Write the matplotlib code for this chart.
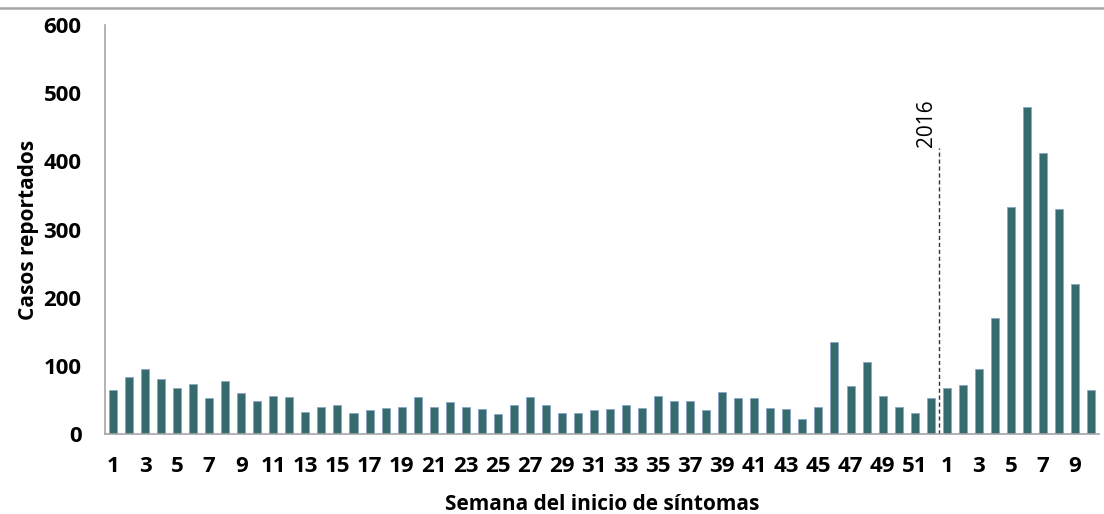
import matplotlib.pyplot as plt
from matplotlib.lines import Line2D

# --- Data: weekly reported cases, 2015 weeks 1-52 then 2016 weeks 1-10 ---
weeks_2015 = list(range(1, 53))
weeks_2016 = list(range(1, 11))
cases_2015 = [65, 83, 96, 81, 67, 74, 53, 78, 60, 49,
              56, 54, 33, 40, 42, 31, 35, 38, 40, 54,
              40, 47, 40, 37, 29, 42, 54, 43, 31, 31,
              35, 37, 43, 38, 56, 49, 49, 35, 62, 53,
              53, 38, 37, 22, 40, 135, 70, 106, 56, 40,
              31, 53]
cases_2016 = [67, 72, 96, 170, 333, 479, 412, 330, 220, 65]

week_labels = [str(w) for w in weeks_2015 + weeks_2016]
cases = cases_2015 + cases_2016
x = list(range(len(cases)))

plt.rcParams["font.family"] = ["Open Sans", "DejaVu Sans"]

fig = plt.figure(figsize=(11.04, 5.14), dpi=100)
ax = fig.add_axes([0.0951, 0.1556, 0.9004, 0.7958])

ax.bar(x, cases, width=0.5, color="#356b6d", edgecolor="#8aa6c8", linewidth=0.6)

ax.set_xlim(-0.5, len(cases) - 0.5)
ax.set_ylim(0, 600)
ax.set_yticks(range(0, 601, 100))

# label every other week
ax.set_xticks(x[::2])
ax.set_xticklabels(week_labels[::2])
ax.tick_params(axis="both", length=0, labelsize=16)
ax.tick_params(axis="x", pad=16)
ax.tick_params(axis="y", pad=17)
for lab in ax.get_xticklabels() + ax.get_yticklabels():
    lab.set_fontweight("bold")

for side in ["top", "right"]:
    ax.spines[side].set_visible(False)
for side in ["left", "bottom"]:
    ax.spines[side].set_color("#a6a6a6")
    ax.spines[side].set_linewidth(1.2)

ax.set_xlabel("Semana del inicio de síntomas", fontsize=15, fontweight="bold", labelpad=12)
ax.set_ylabel("Casos reportados", fontsize=15, fontweight="bold", labelpad=3)

# year separator
sep = len(cases_2015) - 0.5
ax.plot([sep, sep], [0, 420], color="#333333", linestyle=(0, (3, 2)), linewidth=1)
ax.text(sep - 0.1, 421, "2016", rotation=90, ha="right", va="bottom", fontsize=15)

# gray rule at top of the picture
fig.add_artist(Line2D([0, 1], [0.985, 0.985], transform=fig.transFigure,
                      color="#a6a6a6", linewidth=1.8))

plt.savefig("out.png", dpi=100)
plt.close()
